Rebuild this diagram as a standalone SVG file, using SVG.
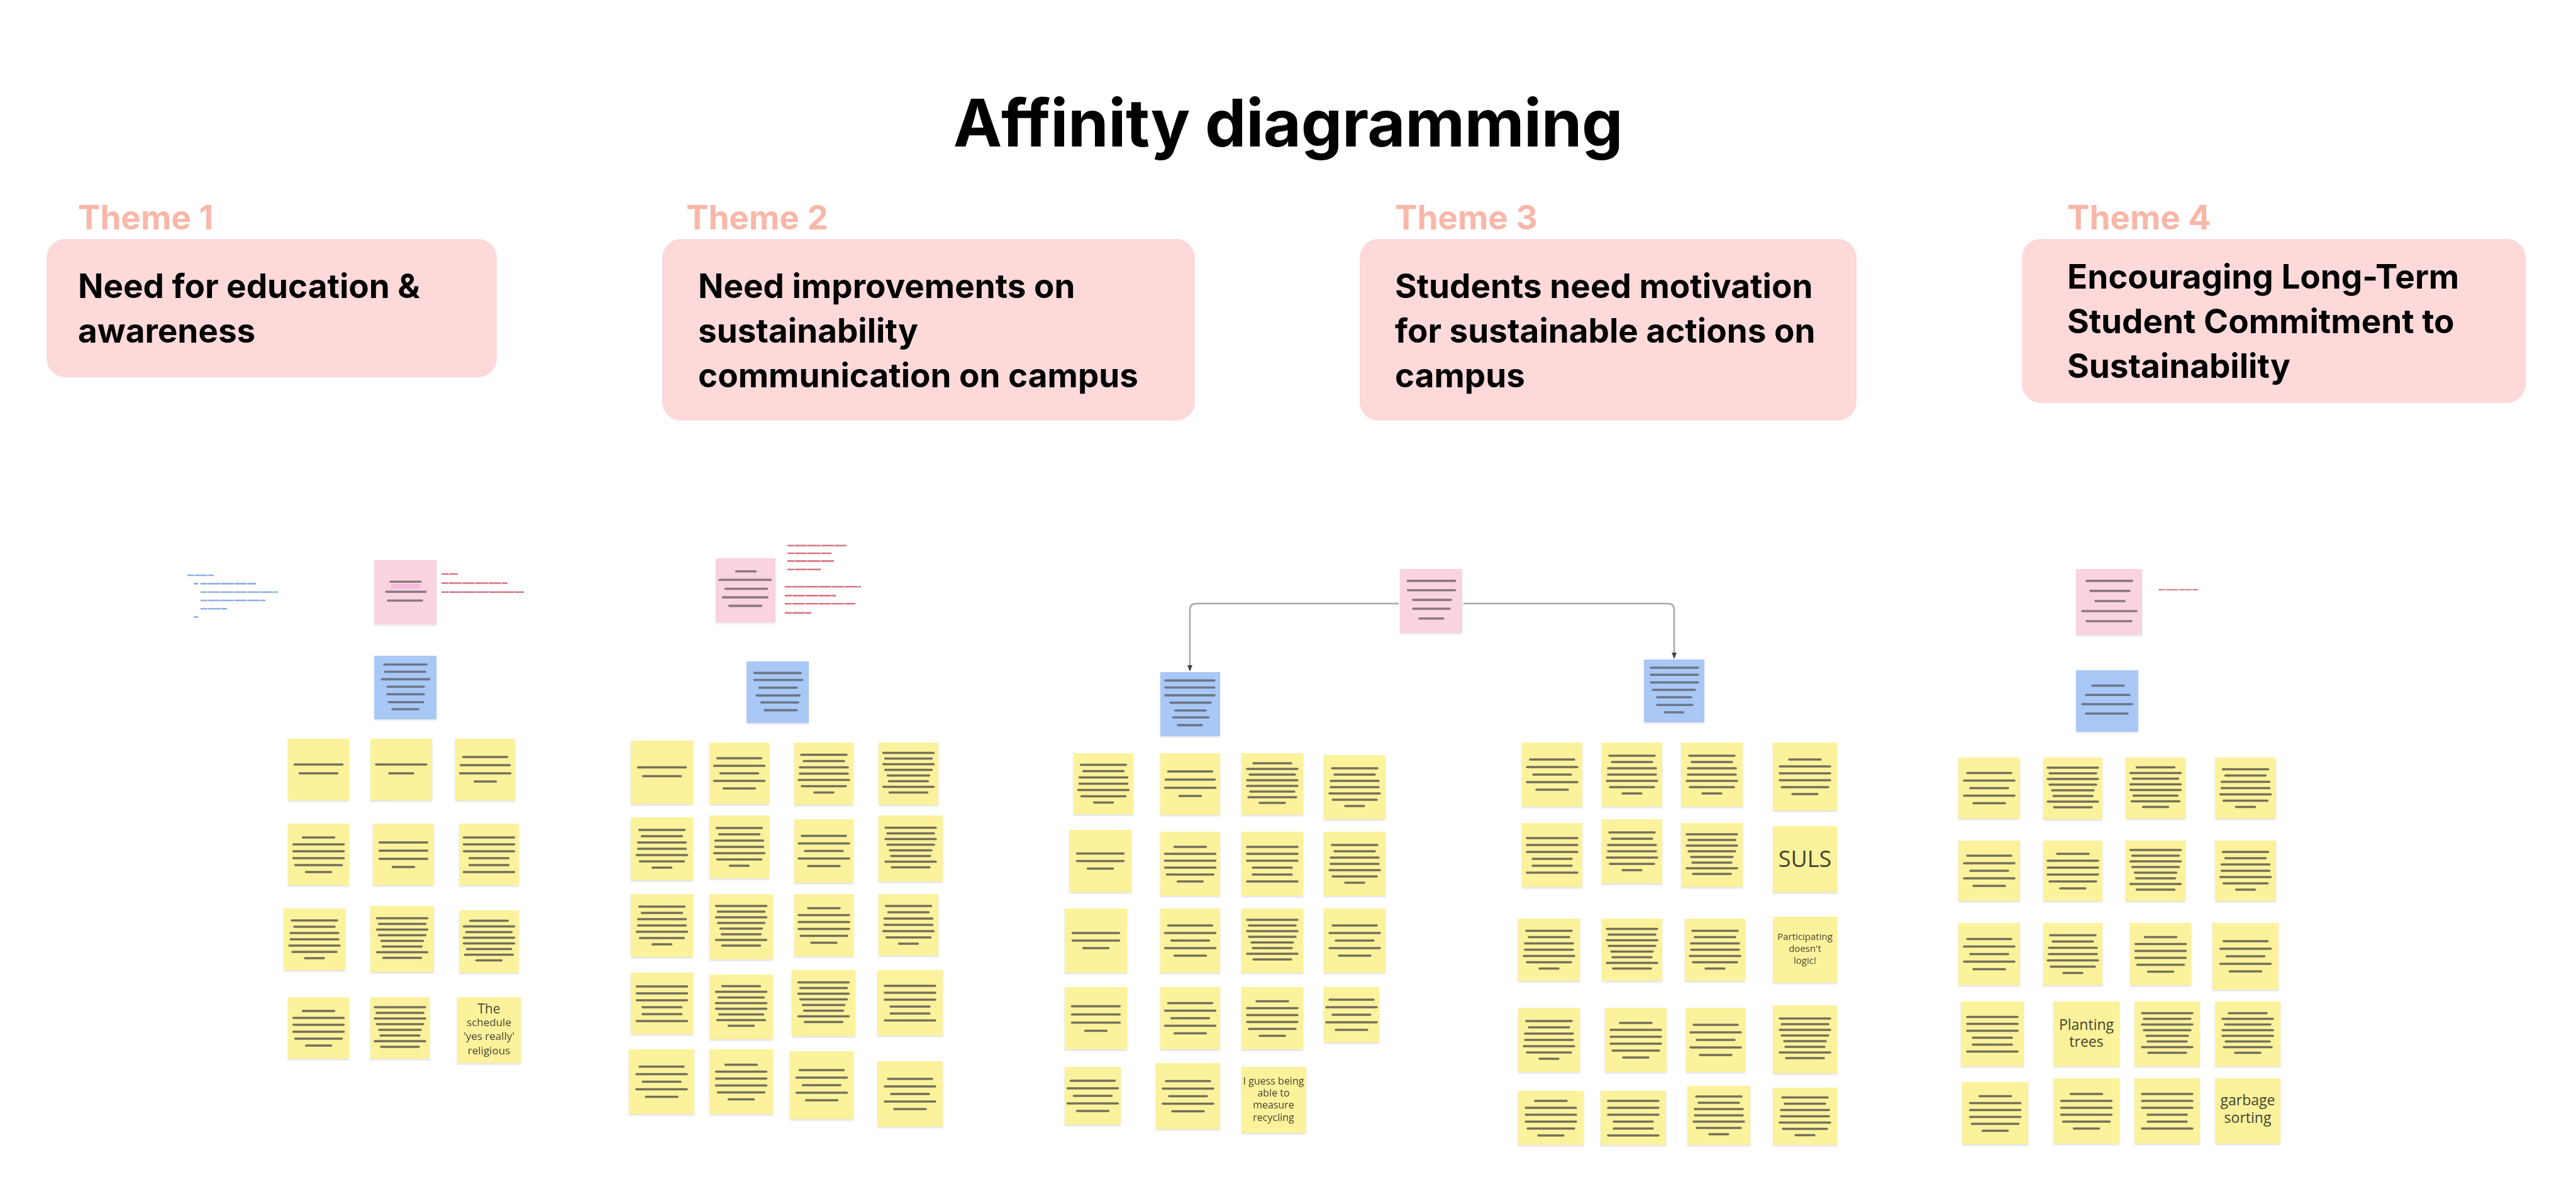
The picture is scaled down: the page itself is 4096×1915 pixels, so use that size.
<svg xmlns="http://www.w3.org/2000/svg" xmlns:xlink="http://www.w3.org/1999/xlink" width="4096" height="1915" viewBox="0 0 4096 1915">
<style>
.title{font-family:Inter,"Liberation Sans",sans-serif;font-weight:700;font-size:104px;letter-spacing:-0.5px;fill:#000}
.lbl{font-family:Inter,"Liberation Sans",sans-serif;font-weight:700;font-size:53px;fill:#F8B7A8}
.hd{font-family:Inter,"Liberation Sans",sans-serif;font-weight:700;font-size:53px;fill:#000}
.box{fill:#FDD9DA}
.y{fill:#FCF29C;filter:drop-shadow(0 2px 1.5px rgba(0,0,0,0.13))}
.p{fill:#F9D3DD;filter:drop-shadow(0 2px 1.5px rgba(0,0,0,0.10))}
.b{fill:#A9C8F6;filter:drop-shadow(0 2px 1.5px rgba(0,0,0,0.10))}
.ln{fill:none;stroke:#74705A;stroke-width:3.5;stroke-linecap:round}
.lp{fill:none;stroke:#8C7884;stroke-width:3.6;stroke-linecap:round}
.lb{fill:none;stroke:#6C7588;stroke-width:3.6;stroke-linecap:round}
.hw{font-family:"Open Sans","DejaVu Sans",sans-serif;fill:#45432F;text-anchor:middle}
.ab{fill:none;stroke:#8FAEE3;stroke-width:2.6;stroke-linecap:round;stroke-dasharray:5 2 2 3 7 2}
.ar{fill:none;stroke:#D9707E;stroke-width:2.6;stroke-linecap:round;stroke-dasharray:5 2 2 3 7 2}
.conn{fill:none;stroke:#A6A6A6;stroke-width:2.5}
</style>
<defs>
<filter id="bl" x="-10%" y="-10%" width="120%" height="120%"><feGaussianBlur stdDeviation="0.7"/></filter>
<marker id="ah" viewBox="0 0 10 10" refX="9" refY="5" markerWidth="10" markerHeight="10" markerUnits="userSpaceOnUse" orient="auto"><path d="M0 1L10 5L0 9z" fill="#444"/></marker>
<path id="L2a" d="M-38 -8h76M-30 6h60"/>
<path id="L2b" d="M-40 -8h80M-19 6h38"/>
<path id="L3" d="M-37 -12h74M-37 0h74M-20 12h40"/>
<path id="L4a" d="M-35 -20h70M-39 -7h78M-40 6h80M-17 19h34"/>
<path id="L4b" d="M-38 -19h76M-38 -6h76M-38 7h76M-17 20h34"/>
<path id="L5" d="M-35 -24h70M-40 -12h80M-30 0h60M-40 12h80M-25 24h50"/>
<path id="L6a" d="M-25 -27h50M-40 -16h80M-40 -5h80M-40 6h80M-37 17h74M-20 28h40"/>
<path id="L6b" d="M-40 -27h80M-40 -16h80M-40 -5h80M-31 6h62M-31 17h62M-40 28h80"/>
<path id="L7" d="M-36 -30h72M-32 -20h64M-38 -10h76M-38 0h76M-40 10h80M-35 20h70M-15 30h30"/>
<path id="L8" d="M-40 -33h80M-37 -24h74M-40 -15h80M-37 -6h74M-33 3h66M-31 12h62M-40 21h80M-30 30h60"/>
<path id="L8c" d="M-30 -33h60M-40 -24h80M-36 -15h72M-40 -6h80M-40 3h80M-35 12h70M-38 21h76M-20 30h40"/>
</defs>
<rect width="4096" height="1915" fill="#fff"/>

<text class="title" x="2048" y="233" text-anchor="middle">Affinity diagramming</text>

<g id="theme1-header">
<text class="lbl" x="124" y="365">Theme 1</text>
<rect class="box" x="74" y="380" width="716" height="220" rx="30"/>
<text class="hd" x="124" y="474">Need for education &amp;</text>
<text class="hd" x="124" y="545">awareness</text>
</g>
<g id="theme2-header">
<text class="lbl" x="1091" y="365">Theme 2</text>
<rect class="box" x="1053" y="380" width="847" height="289" rx="30"/>
<text class="hd" x="1110" y="474">Need improvements on</text>
<text class="hd" x="1110" y="545">sustainability</text>
<text class="hd" x="1110" y="616">communication on campus</text>
</g>
<g id="theme3-header">
<text class="lbl" x="2218" y="365">Theme 3</text>
<rect class="box" x="2162" y="380" width="790" height="289" rx="30"/>
<text class="hd" x="2218" y="474">Students need motivation</text>
<text class="hd" x="2218" y="545">for sustainable actions on</text>
<text class="hd" x="2218" y="616">campus</text>
</g>
<g id="theme4-header">
<text class="lbl" x="3287" y="365">Theme 4</text>
<rect class="box" x="3215" y="380" width="801" height="261" rx="30"/>
<text class="hd" x="3287" y="459">Encouraging Long-Term</text>
<text class="hd" x="3287" y="530">Student Commitment to</text>
<text class="hd" x="3287" y="601">Sustainability</text>
</g>

<g id="annotations" filter="url(#bl)">
<path class="ab" d="M299 915h40M309 928.4h6M320 928.4h86M320 941.7h121M320 955h101M320 968.3h41M309 981.5h7"/>
<path class="ar" d="M703 913h24M703 927.5h105M703 941.7h129"/>
<path class="ar" d="M1253 867.7h92M1253 880h68.6M1253 892.4h73M1253 905.7h51.6M1249 933.2h118.7M1249 947.4h79M1249 960.3h112M1249 974.9h40"/>
<path class="ar" style="stroke-width:2" d="M3433 938h63"/>
</g>

<g id="connectors">
<path class="conn" d="M2224 960H1902Q1892 960 1892 970V1067" marker-end="url(#ah)"/>
<path class="conn" d="M2327 960H2652Q2662 960 2662 970V1047" marker-end="url(#ah)"/>
</g>

<!-- Theme 1 -->
<g id="t1-pink"><rect class="p" x="595" y="891" width="99" height="102"/><rect x="622" y="929" width="46" height="7" fill="#F6BBDD"/><path class="lp" d="M621 925.3h48M614 941.2h63M617 955.3h54"/></g>
<g id="t1-blue"><rect class="b" x="595" y="1043" width="99" height="101"/><path class="lb" d="M611 1057h67M612.5 1068.5h63.5M607.4 1080.4h75M616.5 1092.3h57.5M616 1104.2h58M618 1116.7h55M624 1128h41"/></g>
<g id="t1-r1c1"><rect class="y" x="458" y="1175" width="97" height="98"/><use href="#L2a" x="506.5" y="1224" class="ln"/></g>
<g id="t1-r1c2"><rect class="y" x="589" y="1175" width="98" height="98"/><use href="#L2b" x="638" y="1224" class="ln"/></g>
<g id="t1-r1c3"><rect class="y" x="724" y="1175" width="95" height="98"/><use href="#L4a" x="771.5" y="1224" class="ln"/></g>
<g id="t1-r2c1"><rect class="y" x="458" y="1310" width="97" height="98"/><use href="#L6a" x="506.5" y="1359" class="ln"/></g>
<g id="t1-r2c2"><rect class="y" x="593" y="1310" width="97" height="98"/><use href="#L4b" x="641.5" y="1359" class="ln"/></g>
<g id="t1-r2c3"><rect class="y" x="730" y="1310" width="95" height="98"/><use href="#L6b" x="777.5" y="1359" class="ln"/></g>
<g id="t1-r3c1"><rect class="y" x="451" y="1445" width="98" height="98"/><use href="#L7" x="500" y="1494" class="ln"/></g>
<g id="t1-r3c2"><rect class="y" x="589" y="1441" width="101" height="105"/><use href="#L8" x="639.5" y="1493.5" class="ln"/></g>
<g id="t1-r3c3"><rect class="y" x="730" y="1448" width="95" height="99"/><use href="#L8c" x="777.5" y="1497.5" class="ln"/></g>
<g id="t1-r4c1"><rect class="y" x="458" y="1586" width="97" height="98"/><use href="#L6a" x="506.5" y="1635" class="ln"/></g>
<g id="t1-r4c2"><rect class="y" x="589" y="1586" width="94" height="98"/><use href="#L8" x="636" y="1635" class="ln"/></g>
<g id="t1-r4c3"><rect class="y" x="727" y="1586" width="101" height="105"/>
<g filter="url(#bl)"><text class="hw" x="777.5" y="1612" font-size="21">The</text><text class="hw" x="777.5" y="1632" font-size="17">schedule</text><text class="hw" x="777.5" y="1654" font-size="17">'yes really'</text><text class="hw" x="777.5" y="1677" font-size="17">religious</text></g></g>

<!-- Theme 2 -->
<g id="t2-pink"><rect class="p" x="1138" y="888" width="95" height="102"/><path class="lp" d="M1170.5 908.7h31M1144 922.3h81.7M1153.5 936.5h66M1149.5 950.1h70.7M1159.6 963.6h51"/></g>
<g id="t2-blue"><rect class="b" x="1187" y="1052" width="99" height="98"/><path class="lb" d="M1199.6 1070.4h73.6M1199.6 1081.5h76.2M1207.5 1093.8h59.5M1203.2 1106.1h68.2M1210.5 1117.2h58.7M1216 1129.6h50.7"/></g>
<g id="t2-r1c1"><rect class="y" x="1003" y="1178" width="99" height="101"/><use href="#L2a" x="1052.5" y="1228.5" class="ln"/></g>
<g id="t2-r1c2"><rect class="y" x="1128" y="1181" width="95" height="98"/><use href="#L5" x="1175.5" y="1230" class="ln"/></g>
<g id="t2-r1c3"><rect class="y" x="1263" y="1181" width="94" height="99"/><use href="#L7" x="1310" y="1230.5" class="ln"/></g>
<g id="t2-r1c4"><rect class="y" x="1397" y="1181" width="95" height="99"/><use href="#L8" x="1444.5" y="1230.5" class="ln"/></g>
<g id="t2-r2c1"><rect class="y" x="1003" y="1300" width="99" height="100"/><use href="#L7" x="1052.5" y="1350" class="ln"/></g>
<g id="t2-r2c2"><rect class="y" x="1128" y="1297" width="95" height="100"/><use href="#L7" x="1175.5" y="1347" class="ln"/></g>
<g id="t2-r2c3"><rect class="y" x="1263" y="1303" width="94" height="101"/><use href="#L5" x="1310" y="1353.5" class="ln"/></g>
<g id="t2-r2c4"><rect class="y" x="1397" y="1297" width="102" height="105"/><use href="#L8" x="1448" y="1349.5" class="ln"/></g>
<g id="t2-r3c1"><rect class="y" x="1003" y="1422" width="99" height="100"/><use href="#L7" x="1052.5" y="1472" class="ln"/></g>
<g id="t2-r3c2"><rect class="y" x="1128" y="1422" width="101" height="104"/><use href="#L8" x="1178.5" y="1474" class="ln"/></g>
<g id="t2-r3c3"><rect class="y" x="1263" y="1422" width="94" height="99"/><use href="#L6a" x="1310" y="1471.5" class="ln"/></g>
<g id="t2-r3c4"><rect class="y" x="1397" y="1422" width="95" height="98"/><use href="#L7" x="1444.5" y="1471" class="ln"/></g>
<g id="t2-r4c1"><rect class="y" x="1003" y="1547" width="99" height="98"/><use href="#L6b" x="1052.5" y="1596" class="ln"/></g>
<g id="t2-r4c2"><rect class="y" x="1128" y="1550" width="101" height="103"/><use href="#L8c" x="1178.5" y="1601.5" class="ln"/></g>
<g id="t2-r4c3"><rect class="y" x="1259" y="1543" width="101" height="105"/><use href="#L8" x="1309.5" y="1595.5" class="ln"/></g>
<g id="t2-r4c4"><rect class="y" x="1395" y="1543" width="104" height="104"/><use href="#L6b" x="1447" y="1595" class="ln"/></g>
<g id="t2-r5c1"><rect class="y" x="1000" y="1669" width="104" height="103"/><use href="#L5" x="1052" y="1720.5" class="ln"/></g>
<g id="t2-r5c2"><rect class="y" x="1128" y="1669" width="101" height="103"/><use href="#L6a" x="1178.5" y="1720.5" class="ln"/></g>
<g id="t2-r5c3"><rect class="y" x="1256" y="1672" width="101" height="108"/><use href="#L5" x="1306.5" y="1726" class="ln"/></g>
<g id="t2-r5c4"><rect class="y" x="1395" y="1688" width="104" height="104"/><use href="#L5" x="1447" y="1740" class="ln"/></g>

<!-- Theme 3 -->
<g id="t3-pink"><rect class="p" x="2226" y="905" width="99" height="102"/><path class="lp" d="M2238.6 923.9h75M2238.6 938.7h75M2247 954.1h60M2247 968.3h58M2257 983.7h38"/></g>
<g id="t3-blue-left"><rect class="b" x="1845" y="1069" width="95" height="102"/><path class="lb" d="M1853 1082.4h78M1853 1093.5h78M1853 1105.9h78M1861 1117.6h64M1869 1130h48M1865.5 1141h56M1873 1153.4h38"/></g>
<g id="t3-blue-right"><rect class="b" x="2614" y="1049" width="96" height="100"/><path class="lb" d="M2625 1062h75M2625 1073.2h75M2625 1085.5h75M2628 1097.3h67M2635 1109h54M2635 1121.3h56M2647.5 1133h29"/></g>
<g id="t3L-r1c1"><rect class="y" x="1707" y="1198" width="95" height="97"/><use href="#L7" x="1754.5" y="1246.5" class="ln"/></g>
<g id="t3L-r1c2"><rect class="y" x="1845" y="1198" width="95" height="98"/><use href="#L4a" x="1892.5" y="1247" class="ln"/></g>
<g id="t3L-r1c3"><rect class="y" x="1974" y="1198" width="98" height="98"/><use href="#L8c" x="2023" y="1247" class="ln"/></g>
<g id="t3L-r1c4"><rect class="y" x="2105" y="1201" width="98" height="102"/><use href="#L7" x="2154" y="1252" class="ln"/></g>
<g id="t3L-r2c1"><rect class="y" x="1700" y="1320" width="99" height="99"/><use href="#L3" x="1749.5" y="1369.5" class="ln"/></g>
<g id="t3L-r2c2"><rect class="y" x="1845" y="1323" width="95" height="102"/><use href="#L6a" x="1892.5" y="1374" class="ln"/></g>
<g id="t3L-r2c3"><rect class="y" x="1974" y="1323" width="98" height="102"/><use href="#L6b" x="2023" y="1374" class="ln"/></g>
<g id="t3L-r2c4"><rect class="y" x="2105" y="1323" width="98" height="102"/><use href="#L7" x="2154" y="1374" class="ln"/></g>
<g id="t3L-r3c1"><rect class="y" x="1693" y="1445" width="99" height="102"/><use href="#L3" x="1742.5" y="1496" class="ln"/></g>
<g id="t3L-r3c2"><rect class="y" x="1845" y="1445" width="95" height="102"/><use href="#L5" x="1892.5" y="1496" class="ln"/></g>
<g id="t3L-r3c3"><rect class="y" x="1974" y="1445" width="98" height="102"/><use href="#L8" x="2023" y="1496" class="ln"/></g>
<g id="t3L-r3c4"><rect class="y" x="2105" y="1445" width="98" height="102"/><use href="#L5" x="2154" y="1496" class="ln"/></g>
<g id="t3L-r4c1"><rect class="y" x="1693" y="1570" width="99" height="99"/><use href="#L4b" x="1742.5" y="1619.5" class="ln"/></g>
<g id="t3L-r4c2"><rect class="y" x="1845" y="1570" width="95" height="99"/><use href="#L5" x="1892.5" y="1619.5" class="ln"/></g>
<g id="t3L-r4c3"><rect class="y" x="1974" y="1570" width="98" height="99"/><use href="#L6a" x="2023" y="1619.5" class="ln"/></g>
<g id="t3L-r4c4"><rect class="y" x="2105" y="1570" width="88" height="88"/><use href="#L5" x="2149" y="1614" class="ln"/></g>
<g id="t3L-r5c1"><rect class="y" x="1693" y="1697" width="89" height="92"/><use href="#L5" x="1737.5" y="1743" class="ln"/></g>
<g id="t3L-r5c2"><rect class="y" x="1838" y="1691" width="102" height="105"/><use href="#L5" x="1889" y="1743.5" class="ln"/></g>
<g id="t3L-r5c3"><rect class="y" x="1974" y="1697" width="103" height="105"/>
<g filter="url(#bl)"><text class="hw" x="2025" y="1725" font-size="16">I guess being</text><text class="hw" x="2025" y="1744" font-size="16">able to</text><text class="hw" x="2025" y="1763" font-size="16">measure</text><text class="hw" x="2025" y="1783" font-size="16">recycling</text></g></g>
<g id="t3R-r1c1"><rect class="y" x="2420" y="1181" width="96" height="102"/><use href="#L5" x="2468" y="1232" class="ln"/></g>
<g id="t3R-r1c2"><rect class="y" x="2547" y="1181" width="96" height="102"/><use href="#L7" x="2595" y="1232" class="ln"/></g>
<g id="t3R-r1c3"><rect class="y" x="2673" y="1181" width="98" height="102"/><use href="#L7" x="2722" y="1232" class="ln"/></g>
<g id="t3R-r1c4"><rect class="y" x="2819" y="1181" width="102" height="108"/><use href="#L6a" x="2870" y="1235" class="ln"/></g>
<g id="t3R-r2c1"><rect class="y" x="2420" y="1309" width="96" height="102"/><use href="#L6b" x="2468" y="1360" class="ln"/></g>
<g id="t3R-r2c2"><rect class="y" x="2547" y="1303" width="96" height="102"/><use href="#L7" x="2595" y="1354" class="ln"/></g>
<g id="t3R-r2c3"><rect class="y" x="2673" y="1309" width="98" height="102"/><use href="#L8" x="2722" y="1360" class="ln"/></g>
<g id="t3R-r2c4"><rect class="y" x="2819" y="1314" width="102" height="105"/><text class="hw" x="2870" y="1379" font-size="36">SULS</text></g>
<g id="t3R-r3c1"><rect class="y" x="2414" y="1461" width="98" height="99"/><use href="#L7" x="2463" y="1510.5" class="ln"/></g>
<g id="t3R-r3c2"><rect class="y" x="2547" y="1461" width="96" height="99"/><use href="#L8" x="2595" y="1510.5" class="ln"/></g>
<g id="t3R-r3c3"><rect class="y" x="2679" y="1461" width="96" height="99"/><use href="#L7" x="2727" y="1510.5" class="ln"/></g>
<g id="t3R-r3c4"><rect class="y" x="2819" y="1458" width="102" height="105"/>
<g filter="url(#bl)"><text class="hw" x="2870" y="1495" font-size="15">Participating</text><text class="hw" x="2870" y="1514" font-size="15">doesn't</text><text class="hw" x="2870" y="1533" font-size="15">logic!</text></g></g>
<g id="t3R-r4c1"><rect class="y" x="2414" y="1603" width="98" height="102"/><use href="#L7" x="2463" y="1654" class="ln"/></g>
<g id="t3R-r4c2"><rect class="y" x="2552" y="1603" width="98" height="102"/><use href="#L6a" x="2601" y="1654" class="ln"/></g>
<g id="t3R-r4c3"><rect class="y" x="2681" y="1603" width="94" height="102"/><use href="#L5" x="2728" y="1654" class="ln"/></g>
<g id="t3R-r4c4"><rect class="y" x="2819" y="1599" width="102" height="108"/><use href="#L8" x="2870" y="1653" class="ln"/></g>
<g id="t3R-r5c1"><rect class="y" x="2414" y="1735" width="104" height="86"/><use href="#L6a" x="2466" y="1778" class="ln"/></g>
<g id="t3R-r5c2"><rect class="y" x="2545" y="1735" width="104" height="86"/><use href="#L6b" x="2597" y="1778" class="ln"/></g>
<g id="t3R-r5c3"><rect class="y" x="2683" y="1727" width="100" height="94"/><use href="#L7" x="2733" y="1774" class="ln"/></g>
<g id="t3R-r5c4"><rect class="y" x="2819" y="1730" width="102" height="91"/><use href="#L7" x="2870" y="1775.5" class="ln"/></g>

<!-- Theme 4 -->
<g id="t4-pink"><rect class="p" x="3301" y="905" width="105" height="105"/><path class="lp" d="M3318 923.9h72M3324 939.9h62M3332 956h46M3311 972h86M3318 988h71"/></g>
<g id="t4-blue"><rect class="b" x="3301" y="1066" width="99" height="98"/><path class="lb" d="M3327 1090.5h50M3317 1105.3h69M3311 1120h79M3317 1135h66"/></g>
<g id="t4-r1c1"><rect class="y" x="3114" y="1205" width="98" height="97"/><use href="#L5" x="3163" y="1253.5" class="ln"/></g>
<g id="t4-r1c2"><rect class="y" x="3249" y="1205" width="94" height="98"/><use href="#L8" x="3296" y="1254" class="ln"/></g>
<g id="t4-r1c3"><rect class="y" x="3380" y="1205" width="95" height="97"/><use href="#L8c" x="3427.5" y="1253.5" class="ln"/></g>
<g id="t4-r1c4"><rect class="y" x="3522" y="1205" width="97" height="97"/><use href="#L7" x="3570.5" y="1253.5" class="ln"/></g>
<g id="t4-r2c1"><rect class="y" x="3114" y="1337" width="98" height="96"/><use href="#L5" x="3163" y="1385" class="ln"/></g>
<g id="t4-r2c2"><rect class="y" x="3249" y="1337" width="94" height="96"/><use href="#L6a" x="3296" y="1385" class="ln"/></g>
<g id="t4-r2c3"><rect class="y" x="3380" y="1337" width="95" height="96"/><use href="#L8" x="3427.5" y="1385" class="ln"/></g>
<g id="t4-r2c4"><rect class="y" x="3522" y="1337" width="97" height="96"/><use href="#L7" x="3570.5" y="1385" class="ln"/></g>
<g id="t4-r3c1"><rect class="y" x="3114" y="1468" width="98" height="99"/><use href="#L5" x="3163" y="1517.5" class="ln"/></g>
<g id="t4-r3c2"><rect class="y" x="3249" y="1468" width="94" height="99"/><use href="#L7" x="3296" y="1517.5" class="ln"/></g>
<g id="t4-r3c3"><rect class="y" x="3387" y="1468" width="97" height="99"/><use href="#L6a" x="3435.5" y="1517.5" class="ln"/></g>
<g id="t4-r3c4"><rect class="y" x="3518" y="1468" width="105" height="106"/><use href="#L5" x="3570.5" y="1521" class="ln"/></g>
<g id="t4-r4c1"><rect class="y" x="3118" y="1593" width="100" height="103"/><use href="#L6b" x="3168" y="1644.5" class="ln"/></g>
<g id="t4-r4c2"><rect class="y" x="3265" y="1593" width="105" height="103"/><text class="hw" x="3317.5" y="1638" font-size="23">Planting</text><text class="hw" x="3317.5" y="1665" font-size="23">trees</text></g>
<g id="t4-r4c3"><rect class="y" x="3394" y="1593" width="104" height="103"/><use href="#L8" x="3446" y="1644.5" class="ln"/></g>
<g id="t4-r4c4"><rect class="y" x="3522" y="1593" width="104" height="103"/><use href="#L8c" x="3574" y="1644.5" class="ln"/></g>
<g id="t4-r5c1"><rect class="y" x="3120" y="1721" width="105" height="99"/><use href="#L6a" x="3172.5" y="1770.5" class="ln"/></g>
<g id="t4-r5c2"><rect class="y" x="3265" y="1715" width="105" height="104"/><use href="#L6a" x="3317.5" y="1767" class="ln"/></g>
<g id="t4-r5c3"><rect class="y" x="3394" y="1715" width="104" height="104"/><use href="#L6b" x="3446" y="1767" class="ln"/></g>
<g id="t4-r5c4"><rect class="y" x="3522" y="1715" width="104" height="104"/><text class="hw" x="3574" y="1758" font-size="23">garbage</text><text class="hw" x="3574" y="1786" font-size="23">sorting</text></g>
</svg>
